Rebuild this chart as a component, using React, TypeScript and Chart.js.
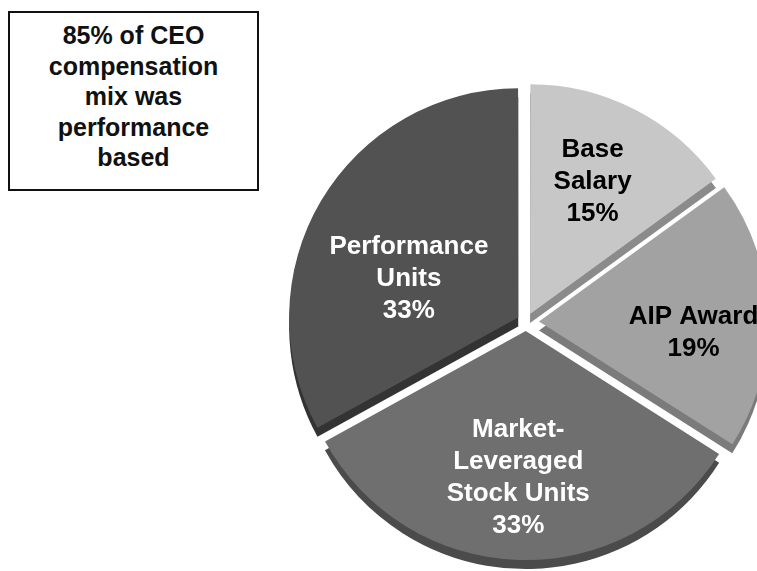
import React, { useEffect, useRef } from "react";
import { Chart, registerables } from "chart.js";

Chart.register(...registerables);

// ---- data ----
const categories: string[][] = [
  ["Base", "Salary"],
  ["AIP Award"],
  ["Market-", "Leveraged", "Stock Units"],
  ["Performance", "Units"],
];
const shares: number[] = [15, 19, 33, 33];
const calloutLines: string[] = ["85% of CEO", "compensation", "mix was", "performance", "based"];

// ---- style ----
const topColors = ["#c7c7c7", "#a2a2a2", "#6f6f6f", "#525252"];
const sideColors = ["#8b8b8b", "#7b7b7b", "#4b4b4b", "#333333"];
const labelColors = ["#000000", "#000000", "#ffffff", "#ffffff"];
const labelRadiusFrac = [0.69, 0.71, 0.67, 0.55];
const labelAngleShiftDeg = [-2, -2, 1, -10];
const labelNudge: [number, number][] = [[-4, 10], [-7, 22], [0, -6], [8, 6]];
const sliceOffsets = [36, 52, 36, 36]; // chart.js translates arcs by offset/4
const DEPTH = 9;
const FONT = '"Liberation Sans", Arial, Helvetica, sans-serif';

const depthPlugin = {
  id: "depth3d",
  beforeDatasetsDraw(chart: any) {
    const ctx = chart.ctx;
    const meta = chart.getDatasetMeta(0);
    ctx.save();
    meta.data.forEach((arc: any, i: number) => {
      const { x, y, startAngle, endAngle, outerRadius } = arc.getProps(
        ["x", "y", "startAngle", "endAngle", "outerRadius"],
        true
      );
      const mid = (startAngle + endAngle) / 2;
      const off = (arc.options.offset || 0) / 4;
      const circ = endAngle - startAngle;
      const fix = 1 - Math.sin(Math.min(Math.PI, circ));
      const cx = x + Math.cos(mid) * off;
      const cy = y + Math.sin(mid) * off + DEPTH;
      ctx.beginPath();
      ctx.moveTo(cx, cy);
      ctx.arc(cx, cy, outerRadius + off * fix, startAngle, endAngle);
      ctx.closePath();
      ctx.fillStyle = sideColors[i];
      ctx.fill();
    });
    ctx.restore();
  },
  afterDatasetsDraw(chart: any) {
    const ctx = chart.ctx;
    const meta = chart.getDatasetMeta(0);
    ctx.save();
    ctx.font = `bold 26px ${FONT}`;
    ctx.textAlign = "center";
    ctx.textBaseline = "middle";
    meta.data.forEach((arc: any, i: number) => {
      const { x, y, startAngle, endAngle, outerRadius } = arc.getProps(
        ["x", "y", "startAngle", "endAngle", "outerRadius"],
        true
      );
      const mid = (startAngle + endAngle) / 2;
      const off = (arc.options.offset || 0) / 4;
      const a = mid + (labelAngleShiftDeg[i] * Math.PI) / 180;
      const r = outerRadius * labelRadiusFrac[i];
      const lx = x + Math.cos(mid) * off + Math.cos(a) * r + labelNudge[i][0];
      const ly = y + Math.sin(mid) * off + Math.sin(a) * r + labelNudge[i][1];
      const lines = [...categories[i], `${shares[i]}%`];
      const lh = 32;
      ctx.fillStyle = labelColors[i];
      lines.forEach((t, k) => {
        ctx.fillText(t, lx, ly + (k - (lines.length - 1) / 2) * lh);
      });
    });
    ctx.restore();
  },
};

export default function App() {
  const ref = useRef<HTMLCanvasElement | null>(null);
  useEffect(() => {
    if (!ref.current) return;
    const chart = new Chart(ref.current, {
      type: "pie",
      data: {
        labels: categories.map((c) => c.join(" ")),
        datasets: [
          {
            data: shares,
            backgroundColor: topColors,
            borderWidth: 0,
            offset: sliceOffsets,
          },
        ],
      },
      options: {
        animation: false,
        responsive: false,
        radius: 228,
        layout: { padding: { left: 295, right: 0, top: 73, bottom: 0 } },
        plugins: {
          legend: { display: false },
          tooltip: { enabled: false },
        },
      } as any,
      plugins: [depthPlugin],
    });
    return () => chart.destroy();
  }, []);

  return (
    <div style={{ position: "absolute", left: 0, top: 0, width: 757, height: 571, overflow: "hidden", background: "#fff" }}>
      <canvas ref={ref} width={757} height={571} style={{ display: "block", position: "absolute", left: 0, top: 0 }} />
      <div
        style={{
          position: "absolute",
          left: 8,
          top: 11,
          width: 251,
          height: 180,
          boxSizing: "border-box",
          border: "2px solid #111",
          background: "#fff",
          fontFamily: FONT,
          fontWeight: "bold",
          fontSize: 25,
          lineHeight: "30.5px",
          textAlign: "center",
          paddingTop: 7,
          color: "#111",
        }}
      >
        {calloutLines.map((l, i) => (
          <div key={i}>{l}</div>
        ))}
      </div>
    </div>
  );
}
